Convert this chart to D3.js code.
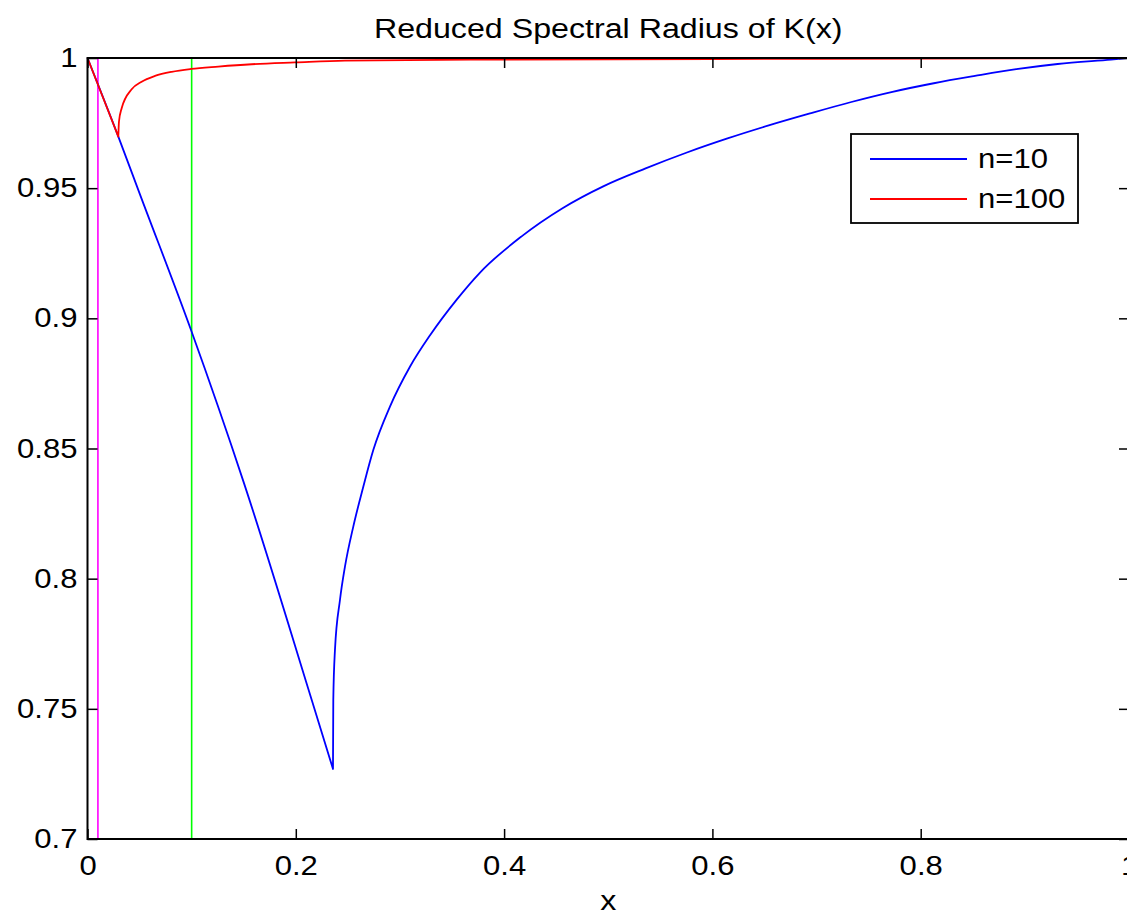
<!DOCTYPE html>
<html>
<head>
<meta charset="utf-8">
<script src="https://cdn.jsdelivr.net/npm/d3@7"></script>
<style>
  body { margin: 0; background: #fff; }
  text { font-family: "Liberation Sans", Arial, sans-serif; fill: #000; }
</style>
</head>
<body>
<svg id="chart" width="1127" height="915"></svg>
<script>
// values
const xTicks = [0, 0.2, 0.4, 0.6, 0.8, 1];
const yTicks = [0.7, 0.75, 0.8, 0.85, 0.9, 0.95, 1];

const n10X = [0, 0.0296, 0.05, 0.0994, 0.15, 0.2153, 0.2357, 0.236, 0.2376, 0.2424, 0.2472, 0.2552,
  0.2648, 0.2744, 0.2904, 0.3096, 0.3289, 0.3545, 0.3769, 0.4165, 0.4561, 0.4957, 0.5353,
  0.5749, 0.6145, 0.6541, 0.6937, 0.7334, 0.7729, 0.8126, 0.8521, 0.8918, 0.9315, 0.9827, 1];
const n10Y = [1, 0.9698, 0.948, 0.8955, 0.837, 0.7534, 0.7269, 0.7534, 0.7726, 0.7918, 0.8046, 0.82,
  0.8353, 0.8494, 0.8661, 0.8814, 0.8935, 0.9072, 0.9176, 0.9314, 0.9423, 0.9508, 0.9575,
  0.9636, 0.9691, 0.9741, 0.9787, 0.9831, 0.9870, 0.9903, 0.9931, 0.9957, 0.9977, 0.9994, 1];

const n100X = [0, 0.0296, 0.0302, 0.0328, 0.0424, 0.052, 0.0648, 0.0808, 0.0994, 0.1256, 0.1577,
  0.1992, 0.2472, 0.4, 0.6, 0.8, 1];
const n100Y = [1, 0.9698, 0.9755, 0.9807, 0.988, 0.9909, 0.9931, 0.9947, 0.9958, 0.9967, 0.9976,
  0.9983, 0.999, 0.9994, 0.9996, 0.9998, 1];

const markers = [0.01, 0.1];
const markerColors = ["#ff00ff", "#00ff00"];

const seriesNames = ["n=10", "n=100"];
const seriesColors = ["#0000ff", "#ff0000"];

const titleText = "Reduced Spectral Radius of K(x)";
const xLabel = "x";

// layout
const mLeft = 87.5, mRight = 1129, mTop = 58, mBottom = 839;
const stretch = 1.15; // text in the reference is a bit wide
const fs = 27;

const svg = d3.select("#chart");
svg.append("rect").attr("width", 1127).attr("height", 915).attr("fill", "#fff");

const x = d3.scaleLinear().domain([0, 1]).range([mLeft, mRight]);
const y = d3.scaleLinear().domain([0.7, 1]).range([mBottom, mTop]);

// reference lines
svg.append("g")
  .selectAll("line")
  .data(markers)
  .join("line")
  .attr("x1", (d) => x(d)).attr("x2", (d) => x(d))
  .attr("y1", y(0.7)).attr("y2", y(1))
  .attr("stroke", (d, i) => markerColors[i])
  .attr("stroke-width", 1.6);

// curves: smooth on each side of the minimum, sharp cusp at it
const smooth = d3.line().x((d) => x(d[0])).y((d) => y(d[1])).curve(d3.curveMonotoneX);

function pathFor(xs, ys) {
  const pts = d3.zip(xs, ys);
  const iMin = d3.minIndex(ys);
  return smooth(pts.slice(0, iMin + 1)) + smooth(pts.slice(iMin)).replace(/^M/, "L");
}

const series = [
  [n10X, n10Y],
  [n100X, n100Y]
];
svg.append("g")
  .selectAll("path")
  .data(series)
  .join("path")
  .attr("d", (d) => pathFor(d[0], d[1]))
  .attr("fill", "none")
  .attr("stroke", (d, i) => seriesColors[i])
  .attr("stroke-width", 1.8)
  .attr("stroke-linejoin", "round");

// axes
function styleAxis(g) {
  g.select(".domain").remove();
  g.selectAll(".tick line").attr("stroke", "#000").attr("stroke-width", 1.5);
  g.selectAll("text").attr("font-size", fs).attr("font-family", null);
}

svg.append("g")
  .attr("transform", `translate(0,${mBottom})`)
  .call(d3.axisBottom(x).tickValues(xTicks).tickSize(-10).tickPadding(17).tickFormat(d3.format("~g")))
  .call(styleAxis)
  .call((g) => g.selectAll("text").attr("transform", `scale(${stretch},1)`));

svg.append("g")
  .attr("transform", `translate(${mLeft},0)`)
  .call(d3.axisLeft(y).tickValues(yTicks).tickSize(-10).tickPadding(10 / stretch).tickFormat(d3.format("~g")))
  .call(styleAxis)
  .call((g) => g.selectAll("text").attr("transform", `scale(${stretch},1)`));

svg.append("g")
  .attr("transform", `translate(0,${mTop})`)
  .call(d3.axisTop(x).tickValues(xTicks).tickSize(-10).tickFormat(""))
  .call(styleAxis);

svg.append("g")
  .attr("transform", `translate(${mRight},0)`)
  .call(d3.axisRight(y).tickValues(yTicks).tickSize(-10).tickFormat(""))
  .call(styleAxis);

// box
svg.append("rect")
  .attr("x", mLeft).attr("y", mTop)
  .attr("width", mRight - mLeft).attr("height", mBottom - mTop)
  .attr("fill", "none").attr("stroke", "#000").attr("stroke-width", 2);

// title and label
svg.append("text")
  .attr("transform", `translate(${(mLeft + mRight) / 2},38) scale(${stretch},1)`)
  .attr("text-anchor", "middle")
  .attr("font-size", 28)
  .text(titleText);

svg.append("text")
  .attr("transform", `translate(${(mLeft + mRight) / 2},910) scale(${stretch},1)`)
  .attr("text-anchor", "middle")
  .attr("font-size", 28)
  .text(xLabel);

// legend
const leg = svg.append("g").attr("transform", "translate(851,134)");
leg.append("rect")
  .attr("width", 227).attr("height", 89)
  .attr("fill", "#fff").attr("stroke", "#000").attr("stroke-width", 1.8);
const items = leg.selectAll("g.item")
  .data(seriesNames)
  .join("g")
  .attr("class", "item")
  .attr("transform", (d, i) => `translate(0,${25 + i * 40})`);
items.append("line")
  .attr("x1", 19).attr("x2", 116)
  .attr("stroke", (d, i) => seriesColors[i])
  .attr("stroke-width", 1.8);
items.append("text")
  .attr("transform", `translate(127,0) scale(${stretch},1)`)
  .attr("dy", "0.35em")
  .attr("font-size", fs)
  .text((d) => d);
</script>
</body>
</html>
